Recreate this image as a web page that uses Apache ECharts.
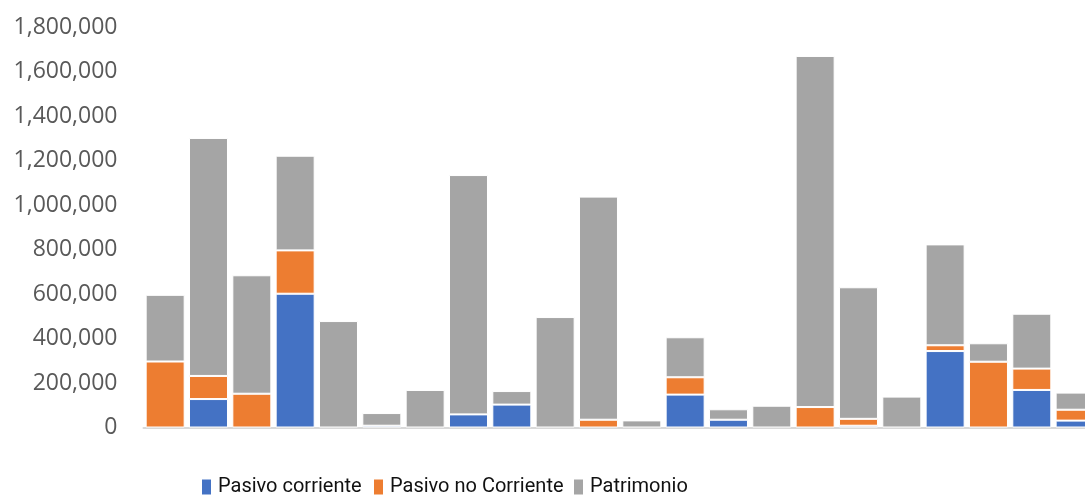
<!DOCTYPE html>
<html>
<head>
<meta charset="utf-8">
<script src="https://cdn.jsdelivr.net/npm/echarts@6/dist/echarts.min.js"></script>
<style>
  html, body { margin: 0; padding: 0; background: #fff; }
  #chart { width: 1085px; height: 497px; }
</style>
</head>
<body>
<div id="chart"></div>
<script>
// Balance structure per company: current liabilities, non-current liabilities, equity
const categories = ['E1','E2','E3','E4','E5','E6','E7','E8','E9','E10','E11',
                    'E12','E13','E14','E15','E16','E17','E18','E19','E20','E21','E22'];

const pasivoCorriente = [0, 128000, 0, 602000, 0, 8000, 0, 59000, 103000, 0, 0,
                         0, 148000, 35000, 0, 0, 8000, 0, 344000, 0, 169000, 31000];

const pasivoNoCorriente = [297000, 104000, 152000, 195000, 0, 0, 0, 0, 0, 0, 35000,
                           0, 78000, 0, 0, 92000, 31000, 0, 26000, 296000, 96000, 49000];

const patrimonio = [300000, 1071000, 533000, 426000, 479000, 57000, 169000, 1077000, 61000, 497000, 1004000,
                    32000, 180000, 47000, 98000, 1580000, 592000, 139000, 454000, 83000, 247000, 77000];

const seriesNames = ['Pasivo corriente', 'Pasivo no Corriente', 'Patrimonio'];
const seriesColors = ['#4472C4', '#ED7D31', '#A5A5A5'];
const seriesValues = [pasivoCorriente, pasivoNoCorriente, patrimonio];

// empty segments are skipped so they leave no stroke on the baseline
const toBarData = arr => arr.map(v => (v === 0 ? '-' : v));

const legendLefts = [200, 372, 572];

const chart = echarts.init(document.getElementById('chart'), null, { renderer: 'canvas' });

// the plot continues past the right edge of the canvas, so its width is fixed explicitly
chart.setOption({
  animation: false,
  backgroundColor: '#ffffff',
  grid: {
    left: 143.5, width: 953.3, top: 27.5, bottom: 69.5,
    containLabel: false,
    outerBoundsMode: 'none'
  },
  legend: seriesNames.map((name, i) => ({
    data: [name],
    left: legendLefts[i],
    top: 477,
    padding: 0,
    icon: 'rect',
    itemWidth: 11,
    itemHeight: 17,
    itemGap: 6,
    selectedMode: false,
    textStyle: { fontFamily: 'Roboto, sans-serif', fontSize: 20, color: '#111111', padding: [0, 0, 0, 1] }
  })),
  xAxis: {
    type: 'category',
    data: categories,
    axisLine: { show: true, lineStyle: { color: '#D9D9D9', width: 2 } },
    axisTick: { show: false },
    axisLabel: { show: false },
    splitLine: { show: false }
  },
  yAxis: {
    type: 'value',
    min: 0,
    max: 1800000,
    interval: 200000,
    axisLine: { show: false },
    axisTick: { show: false },
    splitLine: { show: false },
    axisLabel: {
      margin: 26,
      padding: [6, 0, 0, 0],
      backgroundColor: 'rgba(255,255,255,0)',
      fontFamily: "'Open Sans', sans-serif",
      fontSize: 23,
      color: '#595959',
      formatter: v => v.toLocaleString('en-US')
    }
  },
  series: seriesNames.map((name, i) => ({
    name,
    type: 'bar',
    stack: 'total',
    barCategoryGap: '10%',
    data: toBarData(seriesValues[i]),
    itemStyle: { color: seriesColors[i], borderColor: '#ffffff', borderWidth: 1 }
  }))
});
</script>
</body>
</html>
